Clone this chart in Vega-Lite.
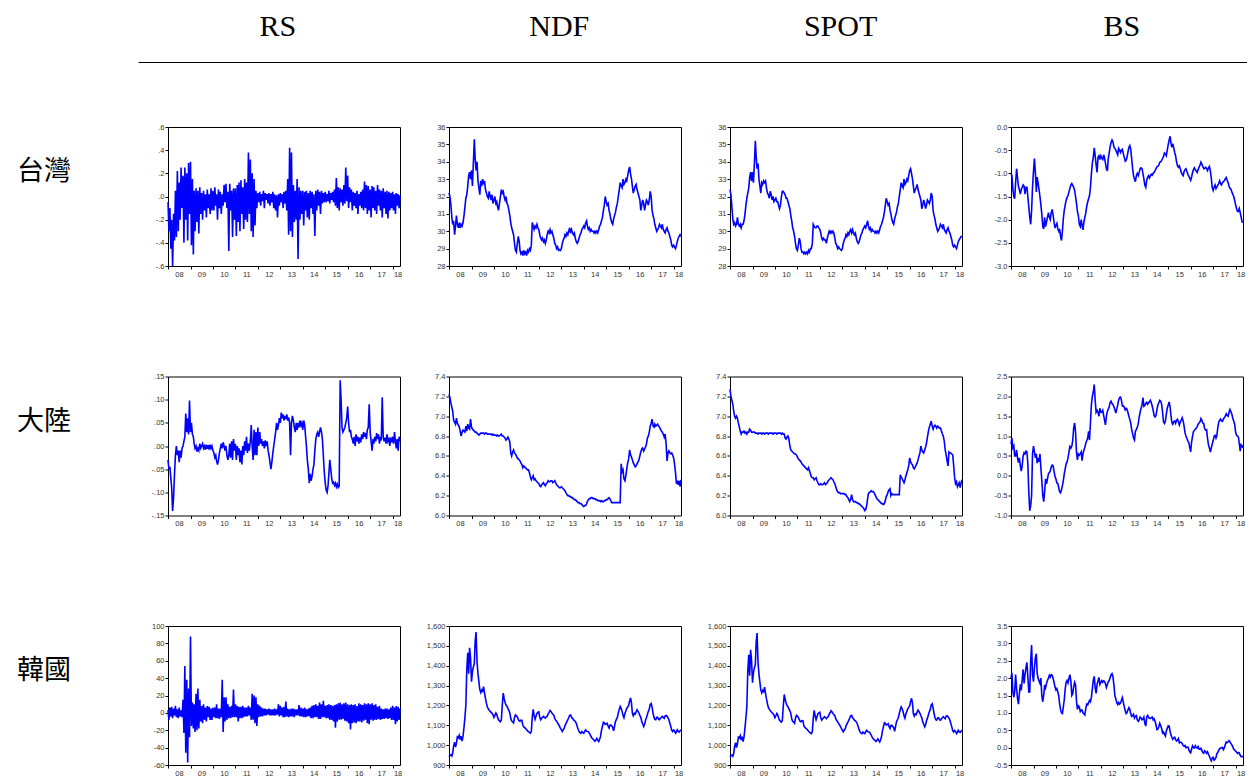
{
"$schema":"https://vega.github.io/schema/vega-lite/v6.json",
"padding":0,
"background":"white",
"bounds":"flush",
"spacing":127,
"config":{
"view":{"stroke":"#000","strokeWidth":1},
"line":{"color":"#0000ff","strokeWidth":1.6,"clip":true},
"axis":{"labelFont":"Liberation Sans","labelFontSize":7.5,"labelColor":"#333","tickColor":"#000","tickSize":3,"labelPadding":1,"grid":false,"domain":false,"labelFlush":false,"labelOverlap":false,"labelBound":false},
"axisX":{"labelOffset":{"condition":{"test":"utcyear(datum.value) == 2018","value":5},"value":11}}
},
"datasets":{
"tw":[
{"t":"2008-01-01","rs":-0.05,"ndf":32.2,"spot":32.4,"bs":-1.0},
{"t":"2008-01-16","rs":-0.3,"ndf":32.0,"spot":32.1,"bs":-1.05},
{"t":"2008-02-01","rs":-0.1,"ndf":31.5,"spot":31.4,"bs":-1.35},
{"t":"2008-02-16","rs":-0.45,"ndf":30.8,"spot":30.7,"bs":-1.5},
{"t":"2008-03-01","rs":-0.2,"ndf":30.4,"spot":30.4,"bs":-1.55},
{"t":"2008-03-16","rs":-0.6,"ndf":30.6,"spot":30.5,"bs":-1.2},
{"t":"2008-04-01","rs":-0.15,"ndf":29.8,"spot":30.3,"bs":-0.9},
{"t":"2008-04-16","rs":-0.38,"ndf":30.3,"spot":30.4,"bs":-1.1},
{"t":"2008-05-01","rs":0.05,"ndf":30.9,"spot":30.8,"bs":-1.28},
{"t":"2008-05-16","rs":-0.35,"ndf":30.4,"spot":30.4,"bs":-1.35},
{"t":"2008-06-01","rs":0.22,"ndf":30.2,"spot":30.3,"bs":-1.45},
{"t":"2008-06-16","rs":-0.3,"ndf":30.5,"spot":30.4,"bs":-1.35},
{"t":"2008-07-01","rs":0.12,"ndf":30.2,"spot":30.2,"bs":-1.3},
{"t":"2008-07-16","rs":-0.2,"ndf":30.4,"spot":30.4,"bs":-1.25},
{"t":"2008-08-01","rs":0.25,"ndf":30.3,"spot":30.4,"bs":-1.28},
{"t":"2008-08-16","rs":-0.1,"ndf":30.5,"spot":30.6,"bs":-1.45},
{"t":"2008-09-01","rs":0.18,"ndf":30.9,"spot":31.0,"bs":-1.3},
{"t":"2008-09-16","rs":-0.4,"ndf":31.4,"spot":31.5,"bs":-1.3},
{"t":"2008-10-01","rs":0.25,"ndf":31.9,"spot":31.9,"bs":-1.5},
{"t":"2008-10-16","rs":-0.2,"ndf":32.1,"spot":32.2,"bs":-1.72},
{"t":"2008-11-01","rs":0.2,"ndf":32.6,"spot":32.5,"bs":-1.95},
{"t":"2008-11-16","rs":-0.38,"ndf":33.2,"spot":33.1,"bs":-2.1},
{"t":"2008-12-01","rs":0.29,"ndf":33.4,"spot":33.4,"bs":-1.8},
{"t":"2008-12-16","rs":-0.15,"ndf":33.0,"spot":32.9,"bs":-1.3},
{"t":"2009-01-01","rs":0.3,"ndf":33.5,"spot":33.4,"bs":-0.95},
{"t":"2009-01-16","rs":-0.42,"ndf":32.6,"spot":32.8,"bs":-0.68},
{"t":"2009-02-01","rs":0.15,"ndf":34.0,"spot":33.9,"bs":-1.0},
{"t":"2009-02-16","rs":-0.5,"ndf":35.3,"spot":35.2,"bs":-1.4},
{"t":"2009-03-01","rs":0.05,"ndf":34.2,"spot":34.3,"bs":-1.08},
{"t":"2009-03-16","rs":-0.3,"ndf":33.5,"spot":33.6,"bs":-1.2},
{"t":"2009-04-01","rs":0.07,"ndf":34.0,"spot":33.9,"bs":-1.35},
{"t":"2009-04-16","rs":-0.22,"ndf":32.9,"spot":33.0,"bs":-1.5},
{"t":"2009-05-01","rs":0.05,"ndf":32.5,"spot":32.6,"bs":-1.68},
{"t":"2009-05-16","rs":-0.32,"ndf":32.1,"spot":32.2,"bs":-1.88},
{"t":"2009-06-01","rs":0.08,"ndf":32.9,"spot":32.8,"bs":-2.15},
{"t":"2009-06-16","rs":-0.15,"ndf":32.6,"spot":32.7,"bs":-2.2},
{"t":"2009-07-01","rs":0.03,"ndf":33.0,"spot":32.9,"bs":-1.95},
{"t":"2009-07-16","rs":-0.2,"ndf":32.7,"spot":32.8,"bs":-2.15},
{"t":"2009-08-01","rs":0.05,"ndf":32.9,"spot":32.9,"bs":-2.05},
{"t":"2009-08-16","rs":-0.12,"ndf":32.4,"spot":32.5,"bs":-1.95},
{"t":"2009-09-01","rs":0.02,"ndf":32.2,"spot":32.2,"bs":-1.85},
{"t":"2009-09-16","rs":-0.18,"ndf":32.0,"spot":32.1,"bs":-1.95},
{"t":"2009-10-01","rs":0.06,"ndf":31.9,"spot":31.9,"bs":-2.0},
{"t":"2009-10-16","rs":-0.1,"ndf":32.3,"spot":32.3,"bs":-1.85},
{"t":"2009-11-01","rs":0.02,"ndf":32.0,"spot":32.1,"bs":-1.78},
{"t":"2009-11-16","rs":-0.15,"ndf":31.8,"spot":31.8,"bs":-1.9},
{"t":"2009-12-01","rs":0.07,"ndf":32.1,"spot":32.0,"bs":-2.05},
{"t":"2009-12-16","rs":-0.12,"ndf":31.6,"spot":31.7,"bs":-2.18},
{"t":"2010-01-01","rs":0.05,"ndf":31.8,"spot":31.8,"bs":-2.12},
{"t":"2010-01-16","rs":-0.12,"ndf":32.0,"spot":31.9,"bs":-2.08},
{"t":"2010-02-01","rs":0.08,"ndf":31.6,"spot":31.7,"bs":-2.2},
{"t":"2010-02-16","rs":-0.08,"ndf":31.7,"spot":31.7,"bs":-2.25},
{"t":"2010-03-01","rs":0.02,"ndf":31.4,"spot":31.5,"bs":-2.2},
{"t":"2010-03-16","rs":-0.2,"ndf":31.2,"spot":31.3,"bs":-2.35},
{"t":"2010-04-01","rs":0.06,"ndf":31.6,"spot":31.5,"bs":-2.45},
{"t":"2010-04-16","rs":-0.1,"ndf":32.0,"spot":32.0,"bs":-2.25},
{"t":"2010-05-01","rs":0.04,"ndf":32.4,"spot":32.3,"bs":-1.98},
{"t":"2010-05-16","rs":-0.15,"ndf":32.2,"spot":32.3,"bs":-1.8},
{"t":"2010-06-01","rs":0.02,"ndf":32.3,"spot":32.2,"bs":-1.68},
{"t":"2010-06-16","rs":-0.08,"ndf":32.0,"spot":32.1,"bs":-1.58},
{"t":"2010-07-01","rs":0.1,"ndf":31.8,"spot":31.9,"bs":-1.52},
{"t":"2010-07-16","rs":-0.05,"ndf":32.0,"spot":31.9,"bs":-1.48},
{"t":"2010-08-01","rs":0.11,"ndf":31.6,"spot":31.7,"bs":-1.4},
{"t":"2010-08-16","rs":-0.1,"ndf":31.5,"spot":31.5,"bs":-1.32},
{"t":"2010-09-01","rs":0.04,"ndf":31.2,"spot":31.3,"bs":-1.25},
{"t":"2010-09-16","rs":-0.47,"ndf":30.9,"spot":30.9,"bs":-1.22},
{"t":"2010-10-01","rs":0.11,"ndf":30.5,"spot":30.6,"bs":-1.26},
{"t":"2010-10-16","rs":-0.12,"ndf":30.2,"spot":30.2,"bs":-1.3},
{"t":"2010-11-01","rs":0.05,"ndf":30.0,"spot":30.0,"bs":-1.37},
{"t":"2010-11-16","rs":-0.35,"ndf":29.8,"spot":29.7,"bs":-1.5},
{"t":"2010-12-01","rs":0.07,"ndf":29.3,"spot":29.3,"bs":-1.65},
{"t":"2010-12-16","rs":-0.2,"ndf":28.9,"spot":29.0,"bs":-1.82},
{"t":"2011-01-01","rs":0.07,"ndf":28.8,"spot":28.9,"bs":-1.92},
{"t":"2011-01-16","rs":-0.34,"ndf":29.3,"spot":29.2,"bs":-2.1},
{"t":"2011-02-01","rs":0.1,"ndf":29.7,"spot":29.6,"bs":-2.15},
{"t":"2011-02-16","rs":-0.22,"ndf":29.4,"spot":29.4,"bs":-2.0},
{"t":"2011-03-01","rs":0.12,"ndf":28.9,"spot":29.0,"bs":-2.12},
{"t":"2011-03-16","rs":-0.3,"ndf":28.7,"spot":28.8,"bs":-2.22},
{"t":"2011-04-01","rs":0.14,"ndf":28.8,"spot":28.8,"bs":-2.05},
{"t":"2011-04-16","rs":-0.15,"ndf":28.6,"spot":28.7,"bs":-1.95},
{"t":"2011-05-01","rs":0.08,"ndf":28.9,"spot":28.8,"bs":-1.86},
{"t":"2011-05-16","rs":-0.28,"ndf":28.7,"spot":28.7,"bs":-1.72},
{"t":"2011-06-01","rs":0.15,"ndf":28.8,"spot":28.8,"bs":-1.62},
{"t":"2011-06-16","rs":-0.2,"ndf":28.6,"spot":28.7,"bs":-1.55},
{"t":"2011-07-01","rs":0.12,"ndf":28.9,"spot":28.9,"bs":-1.48},
{"t":"2011-07-16","rs":-0.22,"ndf":28.8,"spot":28.8,"bs":-1.3},
{"t":"2011-08-01","rs":0.38,"ndf":29.0,"spot":29.0,"bs":-1.0},
{"t":"2011-08-16","rs":-0.15,"ndf":28.9,"spot":29.0,"bs":-0.78},
{"t":"2011-09-01","rs":0.32,"ndf":29.2,"spot":29.3,"bs":-0.65},
{"t":"2011-09-16","rs":-0.3,"ndf":30.5,"spot":30.4,"bs":-0.45},
{"t":"2011-10-01","rs":0.2,"ndf":30.3,"spot":30.3,"bs":-0.62},
{"t":"2011-10-16","rs":-0.35,"ndf":30.1,"spot":30.2,"bs":-0.82},
{"t":"2011-11-01","rs":0.15,"ndf":30.3,"spot":30.2,"bs":-0.98},
{"t":"2011-11-16","rs":-0.25,"ndf":30.2,"spot":30.3,"bs":-0.65},
{"t":"2011-12-01","rs":0.05,"ndf":30.4,"spot":30.3,"bs":-0.62},
{"t":"2011-12-16","rs":-0.1,"ndf":30.2,"spot":30.2,"bs":-0.7},
{"t":"2012-01-01","rs":0.03,"ndf":30.1,"spot":30.1,"bs":-0.62},
{"t":"2012-01-16","rs":-0.05,"ndf":29.8,"spot":29.9,"bs":-0.67},
{"t":"2012-02-01","rs":0.04,"ndf":29.6,"spot":29.6,"bs":-0.7},
{"t":"2012-02-16","rs":-0.08,"ndf":29.5,"spot":29.5,"bs":-0.6},
{"t":"2012-03-01","rs":0.02,"ndf":29.6,"spot":29.6,"bs":-0.66},
{"t":"2012-03-16","rs":-0.04,"ndf":29.4,"spot":29.5,"bs":-0.78},
{"t":"2012-04-01","rs":0.05,"ndf":29.5,"spot":29.5,"bs":-0.9},
{"t":"2012-04-16","rs":-0.1,"ndf":29.3,"spot":29.3,"bs":-0.95},
{"t":"2012-05-01","rs":0.03,"ndf":29.5,"spot":29.6,"bs":-0.68},
{"t":"2012-05-16","rs":-0.03,"ndf":29.8,"spot":29.8,"bs":-0.56},
{"t":"2012-06-01","rs":0.02,"ndf":30.0,"spot":30.0,"bs":-0.42},
{"t":"2012-06-16","rs":-0.06,"ndf":29.9,"spot":29.9,"bs":-0.33},
{"t":"2012-07-01","rs":0.03,"ndf":30.1,"spot":30.0,"bs":-0.28},
{"t":"2012-07-16","rs":-0.08,"ndf":29.9,"spot":29.9,"bs":-0.32},
{"t":"2012-08-01","rs":0.02,"ndf":30.0,"spot":30.0,"bs":-0.43},
{"t":"2012-08-16","rs":-0.05,"ndf":29.8,"spot":29.9,"bs":-0.46},
{"t":"2012-09-01","rs":0.04,"ndf":29.6,"spot":29.6,"bs":-0.5},
{"t":"2012-09-16","rs":-0.1,"ndf":29.3,"spot":29.3,"bs":-0.55},
{"t":"2012-10-01","rs":0.02,"ndf":29.2,"spot":29.2,"bs":-0.6},
{"t":"2012-10-16","rs":-0.12,"ndf":29.0,"spot":29.0,"bs":-0.46},
{"t":"2012-11-01","rs":0.01,"ndf":29.1,"spot":29.1,"bs":-0.5},
{"t":"2012-11-16","rs":-0.18,"ndf":28.9,"spot":29.0,"bs":-0.55},
{"t":"2012-12-01","rs":0.02,"ndf":28.95,"spot":28.95,"bs":-0.5},
{"t":"2012-12-16","rs":-0.08,"ndf":28.9,"spot":28.9,"bs":-0.48},
{"t":"2013-01-01","rs":0.03,"ndf":29.0,"spot":29.0,"bs":-0.58},
{"t":"2013-01-16","rs":-0.05,"ndf":29.3,"spot":29.3,"bs":-0.65},
{"t":"2013-02-01","rs":0.02,"ndf":29.5,"spot":29.5,"bs":-0.74},
{"t":"2013-02-16","rs":-0.1,"ndf":29.6,"spot":29.6,"bs":-0.72},
{"t":"2013-03-01","rs":0.04,"ndf":29.8,"spot":29.8,"bs":-0.66},
{"t":"2013-03-16","rs":-0.06,"ndf":29.7,"spot":29.7,"bs":-0.55},
{"t":"2013-04-01","rs":0.05,"ndf":29.9,"spot":29.9,"bs":-0.44},
{"t":"2013-04-16","rs":-0.12,"ndf":29.8,"spot":29.8,"bs":-0.4},
{"t":"2013-05-01","rs":0.15,"ndf":30.0,"spot":30.0,"bs":-0.48},
{"t":"2013-05-16","rs":-0.33,"ndf":30.2,"spot":30.1,"bs":-0.68},
{"t":"2013-06-01","rs":0.42,"ndf":29.9,"spot":29.9,"bs":-0.9},
{"t":"2013-06-16","rs":-0.3,"ndf":30.1,"spot":30.1,"bs":-1.05},
{"t":"2013-07-01","rs":0.38,"ndf":29.9,"spot":29.9,"bs":-1.12},
{"t":"2013-07-16","rs":-0.35,"ndf":29.8,"spot":29.8,"bs":-1.18},
{"t":"2013-08-01","rs":0.1,"ndf":29.9,"spot":29.9,"bs":-1.05},
{"t":"2013-08-16","rs":-0.22,"ndf":29.6,"spot":29.6,"bs":-1.0},
{"t":"2013-09-01","rs":0.05,"ndf":29.4,"spot":29.4,"bs":-1.05},
{"t":"2013-09-16","rs":-0.2,"ndf":29.3,"spot":29.3,"bs":-0.98},
{"t":"2013-10-01","rs":0.15,"ndf":29.4,"spot":29.4,"bs":-0.9},
{"t":"2013-10-16","rs":-0.54,"ndf":29.6,"spot":29.6,"bs":-0.88},
{"t":"2013-11-01","rs":0.08,"ndf":29.8,"spot":29.8,"bs":-0.9},
{"t":"2013-11-16","rs":-0.2,"ndf":29.9,"spot":29.9,"bs":-1.0},
{"t":"2013-12-01","rs":0.05,"ndf":30.1,"spot":30.1,"bs":-1.12},
{"t":"2013-12-16","rs":-0.15,"ndf":30.2,"spot":30.2,"bs":-1.25},
{"t":"2014-01-01","rs":0.05,"ndf":30.3,"spot":30.3,"bs":-1.3},
{"t":"2014-01-16","rs":-0.25,"ndf":30.2,"spot":30.2,"bs":-1.15},
{"t":"2014-02-01","rs":0.04,"ndf":30.5,"spot":30.4,"bs":-1.08},
{"t":"2014-02-16","rs":-0.12,"ndf":30.6,"spot":30.6,"bs":-1.05},
{"t":"2014-03-01","rs":0.05,"ndf":30.3,"spot":30.3,"bs":-1.1},
{"t":"2014-03-16","rs":-0.18,"ndf":30.1,"spot":30.1,"bs":-1.06},
{"t":"2014-04-01","rs":0.03,"ndf":30.2,"spot":30.2,"bs":-1.02},
{"t":"2014-04-16","rs":-0.2,"ndf":30.0,"spot":30.0,"bs":-1.04},
{"t":"2014-05-01","rs":0.05,"ndf":30.1,"spot":30.1,"bs":-1.0},
{"t":"2014-05-16","rs":-0.1,"ndf":30.0,"spot":30.0,"bs":-0.98},
{"t":"2014-06-01","rs":0.04,"ndf":30.0,"spot":30.0,"bs":-0.94},
{"t":"2014-06-16","rs":-0.15,"ndf":29.9,"spot":29.9,"bs":-0.9},
{"t":"2014-07-01","rs":0.02,"ndf":30.0,"spot":30.0,"bs":-0.86},
{"t":"2014-07-16","rs":-0.34,"ndf":29.9,"spot":29.9,"bs":-0.85},
{"t":"2014-08-01","rs":0.05,"ndf":30.0,"spot":30.0,"bs":-0.82},
{"t":"2014-08-16","rs":-0.12,"ndf":29.9,"spot":29.9,"bs":-0.76},
{"t":"2014-09-01","rs":0.06,"ndf":30.1,"spot":30.1,"bs":-0.75},
{"t":"2014-09-16","rs":-0.08,"ndf":30.3,"spot":30.3,"bs":-0.72},
{"t":"2014-10-01","rs":0.04,"ndf":30.4,"spot":30.4,"bs":-0.68},
{"t":"2014-10-16","rs":-0.15,"ndf":30.6,"spot":30.6,"bs":-0.64},
{"t":"2014-11-01","rs":0.05,"ndf":30.8,"spot":30.8,"bs":-0.56},
{"t":"2014-11-16","rs":-0.06,"ndf":31.2,"spot":31.1,"bs":-0.58},
{"t":"2014-12-01","rs":0.03,"ndf":31.5,"spot":31.5,"bs":-0.62},
{"t":"2014-12-16","rs":-0.05,"ndf":32.0,"spot":31.9,"bs":-0.5},
{"t":"2015-01-01","rs":0.04,"ndf":31.7,"spot":31.7,"bs":-0.38},
{"t":"2015-01-16","rs":-0.05,"ndf":31.5,"spot":31.5,"bs":-0.28},
{"t":"2015-02-01","rs":0.02,"ndf":31.6,"spot":31.6,"bs":-0.2},
{"t":"2015-02-16","rs":-0.04,"ndf":31.2,"spot":31.2,"bs":-0.36},
{"t":"2015-03-01","rs":0.05,"ndf":31.0,"spot":31.0,"bs":-0.44},
{"t":"2015-03-16","rs":-0.06,"ndf":30.7,"spot":30.7,"bs":-0.36},
{"t":"2015-04-01","rs":0.03,"ndf":30.5,"spot":30.5,"bs":-0.45},
{"t":"2015-04-16","rs":-0.03,"ndf":30.4,"spot":30.4,"bs":-0.55},
{"t":"2015-05-01","rs":0.04,"ndf":30.7,"spot":30.7,"bs":-0.62},
{"t":"2015-05-16","rs":-0.05,"ndf":30.9,"spot":30.9,"bs":-0.75},
{"t":"2015-06-01","rs":0.06,"ndf":31.1,"spot":31.1,"bs":-0.84},
{"t":"2015-06-16","rs":-0.08,"ndf":31.4,"spot":31.4,"bs":-0.87},
{"t":"2015-07-01","rs":0.16,"ndf":31.6,"spot":31.6,"bs":-0.84},
{"t":"2015-07-16","rs":-0.1,"ndf":32.0,"spot":32.0,"bs":-0.9},
{"t":"2015-08-01","rs":0.08,"ndf":32.4,"spot":32.4,"bs":-0.98},
{"t":"2015-08-16","rs":-0.12,"ndf":32.8,"spot":32.8,"bs":-1.02},
{"t":"2015-09-01","rs":0.07,"ndf":32.6,"spot":32.6,"bs":-1.05},
{"t":"2015-09-16","rs":-0.05,"ndf":32.5,"spot":32.5,"bs":-0.96},
{"t":"2015-10-01","rs":0.06,"ndf":33.0,"spot":33.0,"bs":-0.92},
{"t":"2015-10-16","rs":-0.08,"ndf":32.7,"spot":32.7,"bs":-0.9},
{"t":"2015-11-01","rs":0.1,"ndf":32.8,"spot":32.8,"bs":-0.96},
{"t":"2015-11-16","rs":-0.06,"ndf":33.0,"spot":33.0,"bs":-1.02},
{"t":"2015-12-01","rs":0.25,"ndf":32.9,"spot":32.9,"bs":-1.06},
{"t":"2015-12-16","rs":-0.04,"ndf":33.2,"spot":33.2,"bs":-1.1},
{"t":"2016-01-01","rs":0.18,"ndf":33.5,"spot":33.5,"bs":-1.15},
{"t":"2016-01-16","rs":-0.1,"ndf":33.7,"spot":33.6,"bs":-1.08},
{"t":"2016-02-01","rs":0.08,"ndf":33.3,"spot":33.3,"bs":-0.98},
{"t":"2016-02-16","rs":-0.05,"ndf":33.0,"spot":33.0,"bs":-0.92},
{"t":"2016-03-01","rs":0.06,"ndf":32.6,"spot":32.6,"bs":-0.88},
{"t":"2016-03-16","rs":-0.12,"ndf":32.2,"spot":32.2,"bs":-0.92},
{"t":"2016-04-01","rs":0.04,"ndf":32.4,"spot":32.4,"bs":-0.95},
{"t":"2016-04-16","rs":-0.08,"ndf":32.6,"spot":32.5,"bs":-0.98},
{"t":"2016-05-01","rs":0.03,"ndf":32.7,"spot":32.7,"bs":-0.92},
{"t":"2016-05-16","rs":-0.1,"ndf":32.4,"spot":32.4,"bs":-0.87},
{"t":"2016-06-01","rs":0.05,"ndf":32.2,"spot":32.2,"bs":-0.82},
{"t":"2016-06-16","rs":-0.15,"ndf":32.0,"spot":32.0,"bs":-0.76},
{"t":"2016-07-01","rs":0.02,"ndf":31.8,"spot":31.8,"bs":-0.8},
{"t":"2016-07-16","rs":-0.08,"ndf":31.2,"spot":31.3,"bs":-0.85},
{"t":"2016-08-01","rs":0.04,"ndf":31.5,"spot":31.5,"bs":-0.9},
{"t":"2016-08-16","rs":-0.1,"ndf":31.8,"spot":31.8,"bs":-0.89},
{"t":"2016-09-01","rs":0.06,"ndf":31.6,"spot":31.6,"bs":-0.87},
{"t":"2016-09-16","rs":-0.12,"ndf":31.2,"spot":31.3,"bs":-0.9},
{"t":"2016-10-01","rs":0.13,"ndf":31.5,"spot":31.5,"bs":-0.94},
{"t":"2016-10-16","rs":-0.1,"ndf":31.8,"spot":31.8,"bs":-0.88},
{"t":"2016-11-01","rs":0.1,"ndf":31.7,"spot":31.7,"bs":-0.85},
{"t":"2016-11-16","rs":-0.15,"ndf":31.5,"spot":31.6,"bs":-0.95},
{"t":"2016-12-01","rs":0.09,"ndf":31.8,"spot":31.8,"bs":-1.1},
{"t":"2016-12-16","rs":-0.12,"ndf":32.3,"spot":32.2,"bs":-1.3},
{"t":"2017-01-01","rs":0.06,"ndf":32.0,"spot":32.0,"bs":-1.37},
{"t":"2017-01-16","rs":-0.18,"ndf":31.2,"spot":31.2,"bs":-1.3},
{"t":"2017-02-01","rs":0.09,"ndf":30.9,"spot":30.9,"bs":-1.25},
{"t":"2017-02-16","rs":-0.1,"ndf":30.7,"spot":30.7,"bs":-1.33},
{"t":"2017-03-01","rs":0.08,"ndf":30.4,"spot":30.4,"bs":-1.3},
{"t":"2017-03-16","rs":-0.12,"ndf":30.2,"spot":30.2,"bs":-1.26},
{"t":"2017-04-01","rs":0.05,"ndf":30.0,"spot":30.0,"bs":-1.22},
{"t":"2017-04-16","rs":-0.15,"ndf":30.1,"spot":30.1,"bs":-1.16},
{"t":"2017-05-01","rs":0.1,"ndf":30.2,"spot":30.2,"bs":-1.22},
{"t":"2017-05-16","rs":-0.08,"ndf":30.4,"spot":30.4,"bs":-1.25},
{"t":"2017-06-01","rs":0.06,"ndf":30.3,"spot":30.3,"bs":-1.2},
{"t":"2017-06-16","rs":-0.12,"ndf":30.2,"spot":30.2,"bs":-1.18},
{"t":"2017-07-01","rs":0.05,"ndf":30.4,"spot":30.4,"bs":-1.16},
{"t":"2017-07-16","rs":-0.18,"ndf":30.1,"spot":30.1,"bs":-1.12},
{"t":"2017-08-01","rs":0.07,"ndf":30.0,"spot":30.0,"bs":-1.09},
{"t":"2017-08-16","rs":-0.1,"ndf":29.9,"spot":29.9,"bs":-1.15},
{"t":"2017-09-01","rs":0.04,"ndf":30.1,"spot":30.1,"bs":-1.2},
{"t":"2017-09-16","rs":-0.15,"ndf":30.2,"spot":30.2,"bs":-1.28},
{"t":"2017-10-01","rs":0.05,"ndf":30.0,"spot":30.0,"bs":-1.32},
{"t":"2017-10-16","rs":-0.19,"ndf":29.9,"spot":29.9,"bs":-1.34},
{"t":"2017-11-01","rs":0.04,"ndf":29.7,"spot":29.7,"bs":-1.4},
{"t":"2017-11-16","rs":-0.12,"ndf":29.5,"spot":29.5,"bs":-1.45},
{"t":"2017-12-01","rs":0.03,"ndf":29.2,"spot":29.2,"bs":-1.5},
{"t":"2017-12-16","rs":-0.1,"ndf":29.1,"spot":29.1,"bs":-1.58},
{"t":"2018-01-01","rs":0.04,"ndf":29.2,"spot":29.2,"bs":-1.68},
{"t":"2018-01-16","rs":-0.12,"ndf":29.1,"spot":29.1,"bs":-1.76},
{"t":"2018-02-01","rs":0.02,"ndf":29.0,"spot":29.0,"bs":-1.82},
{"t":"2018-02-16","rs":-0.15,"ndf":29.2,"spot":29.2,"bs":-1.82},
{"t":"2018-03-01","rs":0.03,"ndf":29.4,"spot":29.4,"bs":-1.76},
{"t":"2018-03-16","rs":-0.08,"ndf":29.6,"spot":29.5,"bs":-1.84},
{"t":"2018-04-01","rs":0.02,"ndf":29.7,"spot":29.6,"bs":-1.95},
{"t":"2018-04-16","rs":-0.1,"ndf":29.8,"spot":29.7,"bs":-2.05},
{"t":"2018-05-01","rs":0.01,"ndf":29.7,"spot":29.7,"bs":-2.05}
],
"cn":[
{"t":"2008-01-01","rs":-0.03,"ndf":7.22,"spot":7.27,"bs":0.8},
{"t":"2008-01-16","rs":-0.05,"ndf":7.19,"spot":7.2,"bs":0.95},
{"t":"2008-02-01","rs":-0.045,"ndf":7.13,"spot":7.16,"bs":0.7},
{"t":"2008-02-16","rs":-0.07,"ndf":7.09,"spot":7.12,"bs":0.75},
{"t":"2008-03-01","rs":-0.09,"ndf":7.05,"spot":7.05,"bs":0.5},
{"t":"2008-03-16","rs":-0.14,"ndf":6.96,"spot":7.0,"bs":0.5},
{"t":"2008-04-01","rs":-0.11,"ndf":6.94,"spot":6.98,"bs":0.65},
{"t":"2008-04-16","rs":-0.06,"ndf":6.92,"spot":7.0,"bs":0.45},
{"t":"2008-05-01","rs":-0.02,"ndf":6.98,"spot":6.98,"bs":0.33},
{"t":"2008-05-16","rs":0.0,"ndf":6.93,"spot":6.93,"bs":0.45},
{"t":"2008-06-01","rs":-0.02,"ndf":6.91,"spot":6.89,"bs":0.25},
{"t":"2008-06-16","rs":-0.01,"ndf":6.89,"spot":6.85,"bs":0.12},
{"t":"2008-07-01","rs":-0.035,"ndf":6.85,"spot":6.82,"bs":0.25},
{"t":"2008-07-16","rs":-0.01,"ndf":6.8,"spot":6.84,"bs":0.5},
{"t":"2008-08-01","rs":-0.025,"ndf":6.84,"spot":6.84,"bs":0.58},
{"t":"2008-08-16","rs":-0.005,"ndf":6.86,"spot":6.85,"bs":0.55},
{"t":"2008-09-01","rs":0.0,"ndf":6.85,"spot":6.83,"bs":0.62},
{"t":"2008-09-16","rs":0.01,"ndf":6.84,"spot":6.84,"bs":0.6},
{"t":"2008-10-01","rs":0.02,"ndf":6.9,"spot":6.82,"bs":0.3},
{"t":"2008-10-16","rs":0.07,"ndf":6.85,"spot":6.84,"bs":-0.4},
{"t":"2008-11-01","rs":0.03,"ndf":6.92,"spot":6.84,"bs":-0.88},
{"t":"2008-11-16","rs":0.06,"ndf":6.88,"spot":6.87,"bs":-0.75},
{"t":"2008-12-01","rs":0.025,"ndf":6.87,"spot":6.86,"bs":-0.5},
{"t":"2008-12-16","rs":0.098,"ndf":6.97,"spot":6.84,"bs":0.55},
{"t":"2009-01-01","rs":0.03,"ndf":6.89,"spot":6.84,"bs":0.75},
{"t":"2009-01-16","rs":0.05,"ndf":6.87,"spot":6.84,"bs":0.6},
{"t":"2009-02-01","rs":0.025,"ndf":6.86,"spot":6.84,"bs":0.45},
{"t":"2009-02-16","rs":0.02,"ndf":6.85,"spot":6.83,"bs":0.55},
{"t":"2009-03-01","rs":0.005,"ndf":6.84,"spot":6.83,"bs":0.32},
{"t":"2009-03-16","rs":-0.005,"ndf":6.84,"spot":6.83,"bs":0.45},
{"t":"2009-04-01","rs":0.0,"ndf":6.83,"spot":6.82,"bs":0.35},
{"t":"2009-04-16","rs":-0.012,"ndf":6.82,"spot":6.83,"bs":0.55},
{"t":"2009-05-01","rs":-0.005,"ndf":6.81,"spot":6.83,"bs":0.2},
{"t":"2009-05-16","rs":-0.01,"ndf":6.82,"spot":6.83,"bs":-0.12},
{"t":"2009-06-01","rs":0.005,"ndf":6.83,"spot":6.82,"bs":-0.5},
{"t":"2009-06-16","rs":-0.005,"ndf":6.83,"spot":6.83,"bs":-0.65},
{"t":"2009-07-01","rs":0.0,"ndf":6.83,"spot":6.83,"bs":-0.4},
{"t":"2009-07-16","rs":0.005,"ndf":6.83,"spot":6.82,"bs":-0.08},
{"t":"2009-08-01","rs":-0.005,"ndf":6.82,"spot":6.83,"bs":-0.2},
{"t":"2009-08-16","rs":0.0,"ndf":6.83,"spot":6.83,"bs":-0.08},
{"t":"2009-09-01","rs":-0.008,"ndf":6.83,"spot":6.83,"bs":0.05},
{"t":"2009-09-16","rs":0.003,"ndf":6.82,"spot":6.82,"bs":0.08},
{"t":"2009-10-01","rs":-0.006,"ndf":6.82,"spot":6.83,"bs":0.12},
{"t":"2009-10-16","rs":0.002,"ndf":6.82,"spot":6.83,"bs":0.22},
{"t":"2009-11-01","rs":-0.008,"ndf":6.82,"spot":6.83,"bs":0.27},
{"t":"2009-11-16","rs":0.003,"ndf":6.82,"spot":6.83,"bs":0.25},
{"t":"2009-12-01","rs":-0.005,"ndf":6.81,"spot":6.82,"bs":0.12},
{"t":"2009-12-16","rs":0.0,"ndf":6.82,"spot":6.83,"bs":-0.02},
{"t":"2010-01-01","rs":-0.01,"ndf":6.81,"spot":6.83,"bs":-0.08},
{"t":"2010-01-16","rs":-0.015,"ndf":6.81,"spot":6.83,"bs":-0.18},
{"t":"2010-02-01","rs":-0.025,"ndf":6.81,"spot":6.82,"bs":-0.2},
{"t":"2010-02-16","rs":-0.02,"ndf":6.8,"spot":6.83,"bs":-0.3},
{"t":"2010-03-01","rs":-0.032,"ndf":6.81,"spot":6.83,"bs":-0.4},
{"t":"2010-03-16","rs":-0.04,"ndf":6.8,"spot":6.83,"bs":-0.43},
{"t":"2010-04-01","rs":-0.03,"ndf":6.8,"spot":6.83,"bs":-0.35},
{"t":"2010-04-16","rs":-0.015,"ndf":6.81,"spot":6.82,"bs":-0.25},
{"t":"2010-05-01","rs":-0.005,"ndf":6.82,"spot":6.83,"bs":-0.12},
{"t":"2010-05-16","rs":0.005,"ndf":6.8,"spot":6.82,"bs":0.05},
{"t":"2010-06-01","rs":-0.005,"ndf":6.8,"spot":6.82,"bs":0.18},
{"t":"2010-06-16","rs":0.008,"ndf":6.79,"spot":6.78,"bs":0.3},
{"t":"2010-07-01","rs":0.0,"ndf":6.78,"spot":6.77,"bs":0.35},
{"t":"2010-07-16","rs":-0.01,"ndf":6.76,"spot":6.79,"bs":0.45},
{"t":"2010-08-01","rs":0.0,"ndf":6.77,"spot":6.8,"bs":0.6},
{"t":"2010-08-16","rs":-0.02,"ndf":6.79,"spot":6.77,"bs":0.74},
{"t":"2010-09-01","rs":-0.03,"ndf":6.77,"spot":6.7,"bs":0.7},
{"t":"2010-09-16","rs":-0.02,"ndf":6.74,"spot":6.66,"bs":0.75},
{"t":"2010-10-01","rs":0.005,"ndf":6.63,"spot":6.65,"bs":0.89},
{"t":"2010-10-16","rs":-0.025,"ndf":6.6,"spot":6.64,"bs":1.2},
{"t":"2010-11-01","rs":0.01,"ndf":6.64,"spot":6.63,"bs":1.33},
{"t":"2010-11-16","rs":-0.03,"ndf":6.66,"spot":6.62,"bs":1.1},
{"t":"2010-12-01","rs":0.015,"ndf":6.63,"spot":6.62,"bs":0.6},
{"t":"2010-12-16","rs":-0.01,"ndf":6.62,"spot":6.61,"bs":0.4},
{"t":"2011-01-01","rs":0.005,"ndf":6.6,"spot":6.59,"bs":0.55},
{"t":"2011-01-16","rs":-0.03,"ndf":6.58,"spot":6.57,"bs":0.52},
{"t":"2011-02-01","rs":0.0,"ndf":6.57,"spot":6.56,"bs":0.55},
{"t":"2011-02-16","rs":-0.02,"ndf":6.56,"spot":6.55,"bs":0.6},
{"t":"2011-03-01","rs":-0.005,"ndf":6.55,"spot":6.54,"bs":0.38},
{"t":"2011-03-16","rs":-0.035,"ndf":6.53,"spot":6.52,"bs":0.55},
{"t":"2011-04-01","rs":-0.01,"ndf":6.51,"spot":6.51,"bs":0.65},
{"t":"2011-04-16","rs":-0.04,"ndf":6.48,"spot":6.5,"bs":0.72},
{"t":"2011-05-01","rs":0.0,"ndf":6.5,"spot":6.49,"bs":0.82},
{"t":"2011-05-16","rs":-0.02,"ndf":6.49,"spot":6.48,"bs":0.88},
{"t":"2011-06-01","rs":0.01,"ndf":6.48,"spot":6.47,"bs":0.95},
{"t":"2011-06-16","rs":-0.01,"ndf":6.47,"spot":6.46,"bs":1.12},
{"t":"2011-07-01","rs":0.02,"ndf":6.46,"spot":6.48,"bs":0.9},
{"t":"2011-07-16","rs":-0.015,"ndf":6.46,"spot":6.45,"bs":1.35},
{"t":"2011-08-01","rs":0.005,"ndf":6.43,"spot":6.42,"bs":1.8},
{"t":"2011-08-16","rs":-0.01,"ndf":6.39,"spot":6.39,"bs":2.0},
{"t":"2011-09-01","rs":0.01,"ndf":6.36,"spot":6.38,"bs":2.12},
{"t":"2011-09-16","rs":0.045,"ndf":6.38,"spot":6.38,"bs":2.3},
{"t":"2011-10-01","rs":0.0,"ndf":6.4,"spot":6.36,"bs":1.9},
{"t":"2011-10-16","rs":-0.03,"ndf":6.36,"spot":6.37,"bs":1.6},
{"t":"2011-11-01","rs":0.035,"ndf":6.37,"spot":6.38,"bs":1.65},
{"t":"2011-11-16","rs":-0.02,"ndf":6.35,"spot":6.35,"bs":1.6},
{"t":"2011-12-01","rs":0.03,"ndf":6.34,"spot":6.33,"bs":1.5},
{"t":"2011-12-16","rs":-0.02,"ndf":6.33,"spot":6.31,"bs":1.7},
{"t":"2012-01-01","rs":0.04,"ndf":6.32,"spot":6.31,"bs":1.6},
{"t":"2012-01-16","rs":0.0,"ndf":6.3,"spot":6.32,"bs":1.6},
{"t":"2012-02-01","rs":0.03,"ndf":6.29,"spot":6.31,"bs":1.65},
{"t":"2012-02-16","rs":0.005,"ndf":6.31,"spot":6.31,"bs":1.52},
{"t":"2012-03-01","rs":0.015,"ndf":6.32,"spot":6.32,"bs":1.4},
{"t":"2012-03-16","rs":0.0,"ndf":6.33,"spot":6.33,"bs":1.28},
{"t":"2012-04-01","rs":0.01,"ndf":6.31,"spot":6.31,"bs":1.5},
{"t":"2012-04-16","rs":-0.005,"ndf":6.3,"spot":6.32,"bs":1.62},
{"t":"2012-05-01","rs":0.012,"ndf":6.32,"spot":6.33,"bs":1.68},
{"t":"2012-05-16","rs":0.0,"ndf":6.33,"spot":6.35,"bs":1.73},
{"t":"2012-06-01","rs":0.01,"ndf":6.35,"spot":6.36,"bs":1.85},
{"t":"2012-06-16","rs":-0.01,"ndf":6.34,"spot":6.37,"bs":1.88},
{"t":"2012-07-01","rs":-0.02,"ndf":6.34,"spot":6.38,"bs":1.82},
{"t":"2012-07-16","rs":-0.035,"ndf":6.35,"spot":6.37,"bs":1.79},
{"t":"2012-08-01","rs":-0.05,"ndf":6.35,"spot":6.36,"bs":1.74},
{"t":"2012-08-16","rs":-0.035,"ndf":6.33,"spot":6.34,"bs":1.67},
{"t":"2012-09-01","rs":-0.015,"ndf":6.34,"spot":6.32,"bs":1.58},
{"t":"2012-09-16","rs":0.0,"ndf":6.35,"spot":6.29,"bs":1.68},
{"t":"2012-10-01","rs":0.015,"ndf":6.33,"spot":6.26,"bs":1.78},
{"t":"2012-10-16","rs":0.03,"ndf":6.31,"spot":6.24,"bs":1.9},
{"t":"2012-11-01","rs":0.05,"ndf":6.3,"spot":6.23,"bs":1.97},
{"t":"2012-11-16","rs":0.035,"ndf":6.29,"spot":6.23,"bs":1.98},
{"t":"2012-12-01","rs":0.045,"ndf":6.28,"spot":6.22,"bs":1.9},
{"t":"2012-12-16","rs":0.06,"ndf":6.28,"spot":6.22,"bs":1.76},
{"t":"2013-01-01","rs":0.05,"ndf":6.29,"spot":6.22,"bs":1.76},
{"t":"2013-01-16","rs":0.072,"ndf":6.28,"spot":6.22,"bs":1.72},
{"t":"2013-02-01","rs":0.06,"ndf":6.27,"spot":6.22,"bs":1.66},
{"t":"2013-02-16","rs":0.068,"ndf":6.26,"spot":6.21,"bs":1.7},
{"t":"2013-03-01","rs":0.055,"ndf":6.25,"spot":6.21,"bs":1.68},
{"t":"2013-03-16","rs":0.065,"ndf":6.23,"spot":6.19,"bs":1.6},
{"t":"2013-04-01","rs":0.058,"ndf":6.21,"spot":6.18,"bs":1.5},
{"t":"2013-04-16","rs":0.068,"ndf":6.2,"spot":6.16,"bs":1.42},
{"t":"2013-05-01","rs":0.055,"ndf":6.2,"spot":6.14,"bs":1.33},
{"t":"2013-05-16","rs":0.062,"ndf":6.19,"spot":6.16,"bs":1.17},
{"t":"2013-06-01","rs":0.05,"ndf":6.19,"spot":6.21,"bs":1.06},
{"t":"2013-06-16","rs":-0.02,"ndf":6.18,"spot":6.16,"bs":0.95},
{"t":"2013-07-01","rs":0.05,"ndf":6.18,"spot":6.14,"bs":0.9},
{"t":"2013-07-16","rs":0.065,"ndf":6.17,"spot":6.14,"bs":1.12},
{"t":"2013-08-01","rs":0.055,"ndf":6.16,"spot":6.14,"bs":1.17},
{"t":"2013-08-16","rs":0.04,"ndf":6.16,"spot":6.13,"bs":1.22},
{"t":"2013-09-01","rs":0.03,"ndf":6.15,"spot":6.13,"bs":1.32},
{"t":"2013-09-16","rs":0.05,"ndf":6.14,"spot":6.12,"bs":1.48},
{"t":"2013-10-01","rs":0.035,"ndf":6.13,"spot":6.12,"bs":1.6},
{"t":"2013-10-16","rs":0.05,"ndf":6.13,"spot":6.11,"bs":1.7},
{"t":"2013-11-01","rs":0.04,"ndf":6.12,"spot":6.1,"bs":1.78},
{"t":"2013-11-16","rs":0.055,"ndf":6.12,"spot":6.09,"bs":1.97},
{"t":"2013-12-01","rs":0.045,"ndf":6.11,"spot":6.08,"bs":1.75},
{"t":"2013-12-16","rs":0.05,"ndf":6.1,"spot":6.07,"bs":1.77},
{"t":"2014-01-01","rs":0.035,"ndf":6.09,"spot":6.05,"bs":1.82},
{"t":"2014-01-16","rs":0.055,"ndf":6.1,"spot":6.06,"bs":1.85},
{"t":"2014-02-01","rs":0.045,"ndf":6.1,"spot":6.1,"bs":1.8},
{"t":"2014-02-16","rs":0.02,"ndf":6.12,"spot":6.17,"bs":1.84},
{"t":"2014-03-01","rs":0.0,"ndf":6.14,"spot":6.22,"bs":1.86},
{"t":"2014-03-16","rs":-0.03,"ndf":6.16,"spot":6.23,"bs":1.9},
{"t":"2014-04-01","rs":-0.05,"ndf":6.17,"spot":6.24,"bs":1.84},
{"t":"2014-04-16","rs":-0.08,"ndf":6.17,"spot":6.25,"bs":1.75},
{"t":"2014-05-01","rs":-0.06,"ndf":6.18,"spot":6.24,"bs":1.65},
{"t":"2014-05-16","rs":-0.075,"ndf":6.18,"spot":6.24,"bs":1.52},
{"t":"2014-06-01","rs":-0.065,"ndf":6.17,"spot":6.23,"bs":1.48},
{"t":"2014-06-16","rs":-0.05,"ndf":6.17,"spot":6.21,"bs":1.52},
{"t":"2014-07-01","rs":-0.04,"ndf":6.17,"spot":6.19,"bs":1.66},
{"t":"2014-07-16","rs":-0.01,"ndf":6.16,"spot":6.17,"bs":1.78},
{"t":"2014-08-01","rs":0.015,"ndf":6.16,"spot":6.16,"bs":1.84},
{"t":"2014-08-16","rs":0.025,"ndf":6.15,"spot":6.15,"bs":1.9},
{"t":"2014-09-01","rs":0.03,"ndf":6.15,"spot":6.14,"bs":1.88},
{"t":"2014-09-16","rs":0.02,"ndf":6.15,"spot":6.13,"bs":1.8},
{"t":"2014-10-01","rs":0.03,"ndf":6.14,"spot":6.12,"bs":1.6},
{"t":"2014-10-16","rs":0.04,"ndf":6.15,"spot":6.12,"bs":1.36},
{"t":"2014-11-01","rs":0.03,"ndf":6.14,"spot":6.11,"bs":1.32},
{"t":"2014-11-16","rs":0.015,"ndf":6.14,"spot":6.12,"bs":1.38},
{"t":"2014-12-01","rs":-0.02,"ndf":6.15,"spot":6.15,"bs":1.55},
{"t":"2014-12-16","rs":-0.055,"ndf":6.15,"spot":6.19,"bs":1.7},
{"t":"2015-01-01","rs":-0.08,"ndf":6.16,"spot":6.21,"bs":1.78},
{"t":"2015-01-16","rs":-0.095,"ndf":6.16,"spot":6.24,"bs":1.86},
{"t":"2015-02-01","rs":-0.1,"ndf":6.17,"spot":6.26,"bs":1.72},
{"t":"2015-02-16","rs":-0.085,"ndf":6.18,"spot":6.27,"bs":1.5},
{"t":"2015-03-01","rs":-0.06,"ndf":6.17,"spot":6.2,"bs":1.35},
{"t":"2015-03-16","rs":-0.03,"ndf":6.15,"spot":6.22,"bs":1.3},
{"t":"2015-04-01","rs":-0.05,"ndf":6.13,"spot":6.21,"bs":1.36},
{"t":"2015-04-16","rs":-0.07,"ndf":6.13,"spot":6.21,"bs":1.38},
{"t":"2015-05-01","rs":-0.08,"ndf":6.13,"spot":6.21,"bs":1.32},
{"t":"2015-05-16","rs":-0.078,"ndf":6.13,"spot":6.21,"bs":1.4},
{"t":"2015-06-01","rs":-0.085,"ndf":6.13,"spot":6.21,"bs":1.42},
{"t":"2015-06-16","rs":-0.08,"ndf":6.13,"spot":6.21,"bs":1.36},
{"t":"2015-07-01","rs":-0.088,"ndf":6.13,"spot":6.21,"bs":1.28},
{"t":"2015-07-16","rs":-0.082,"ndf":6.13,"spot":6.21,"bs":1.35},
{"t":"2015-08-01","rs":-0.09,"ndf":6.13,"spot":6.41,"bs":1.4},
{"t":"2015-08-16","rs":-0.087,"ndf":6.13,"spot":6.39,"bs":1.46},
{"t":"2015-09-01","rs":0.142,"ndf":6.52,"spot":6.37,"bs":1.38},
{"t":"2015-09-16","rs":0.1,"ndf":6.44,"spot":6.35,"bs":1.25},
{"t":"2015-10-01","rs":0.04,"ndf":6.46,"spot":6.33,"bs":1.08},
{"t":"2015-10-16","rs":0.03,"ndf":6.37,"spot":6.36,"bs":1.0},
{"t":"2015-11-01","rs":0.035,"ndf":6.35,"spot":6.4,"bs":0.94},
{"t":"2015-11-16","rs":0.04,"ndf":6.4,"spot":6.43,"bs":0.88},
{"t":"2015-12-01","rs":0.05,"ndf":6.47,"spot":6.46,"bs":0.84},
{"t":"2015-12-16","rs":0.06,"ndf":6.53,"spot":6.5,"bs":0.72},
{"t":"2016-01-01","rs":0.085,"ndf":6.57,"spot":6.58,"bs":0.6},
{"t":"2016-01-16","rs":0.05,"ndf":6.66,"spot":6.54,"bs":0.85},
{"t":"2016-02-01","rs":0.03,"ndf":6.61,"spot":6.52,"bs":1.0},
{"t":"2016-02-16","rs":0.035,"ndf":6.59,"spot":6.51,"bs":1.12},
{"t":"2016-03-01","rs":0.02,"ndf":6.56,"spot":6.48,"bs":1.14},
{"t":"2016-03-16","rs":0.015,"ndf":6.53,"spot":6.47,"bs":1.17},
{"t":"2016-04-01","rs":0.005,"ndf":6.51,"spot":6.49,"bs":1.2},
{"t":"2016-04-16","rs":0.02,"ndf":6.49,"spot":6.51,"bs":1.24},
{"t":"2016-05-01","rs":0.0,"ndf":6.5,"spot":6.53,"bs":1.3},
{"t":"2016-05-16","rs":0.025,"ndf":6.52,"spot":6.56,"bs":1.33},
{"t":"2016-06-01","rs":0.01,"ndf":6.54,"spot":6.6,"bs":1.36},
{"t":"2016-06-16","rs":0.02,"ndf":6.56,"spot":6.63,"bs":1.44},
{"t":"2016-07-01","rs":0.005,"ndf":6.6,"spot":6.7,"bs":1.4},
{"t":"2016-07-16","rs":0.018,"ndf":6.64,"spot":6.66,"bs":1.33},
{"t":"2016-08-01","rs":0.008,"ndf":6.67,"spot":6.64,"bs":1.31},
{"t":"2016-08-16","rs":0.025,"ndf":6.68,"spot":6.63,"bs":1.18},
{"t":"2016-09-01","rs":0.015,"ndf":6.65,"spot":6.66,"bs":1.15},
{"t":"2016-09-16","rs":0.03,"ndf":6.67,"spot":6.69,"bs":1.16},
{"t":"2016-10-01","rs":0.02,"ndf":6.69,"spot":6.73,"bs":0.95},
{"t":"2016-10-16","rs":0.028,"ndf":6.72,"spot":6.79,"bs":0.78},
{"t":"2016-11-01","rs":0.015,"ndf":6.78,"spot":6.85,"bs":0.7},
{"t":"2016-11-16","rs":0.035,"ndf":6.8,"spot":6.89,"bs":0.6},
{"t":"2016-12-01","rs":0.04,"ndf":6.84,"spot":6.92,"bs":0.7},
{"t":"2016-12-16","rs":0.09,"ndf":6.9,"spot":6.95,"bs":0.8},
{"t":"2017-01-01","rs":0.03,"ndf":6.93,"spot":6.9,"bs":0.88},
{"t":"2017-01-16","rs":0.01,"ndf":6.97,"spot":6.87,"bs":1.0},
{"t":"2017-02-01","rs":-0.01,"ndf":6.9,"spot":6.9,"bs":1.02},
{"t":"2017-02-16","rs":0.015,"ndf":6.89,"spot":6.91,"bs":0.95},
{"t":"2017-03-01","rs":0.005,"ndf":6.92,"spot":6.9,"bs":1.0},
{"t":"2017-03-16","rs":0.02,"ndf":6.9,"spot":6.88,"bs":1.2},
{"t":"2017-04-01","rs":0.01,"ndf":6.91,"spot":6.9,"bs":1.35},
{"t":"2017-04-16","rs":0.028,"ndf":6.92,"spot":6.89,"bs":1.4},
{"t":"2017-05-01","rs":0.015,"ndf":6.9,"spot":6.88,"bs":1.43},
{"t":"2017-05-16","rs":0.025,"ndf":6.89,"spot":6.88,"bs":1.38},
{"t":"2017-06-01","rs":0.005,"ndf":6.87,"spot":6.85,"bs":1.37},
{"t":"2017-06-16","rs":0.02,"ndf":6.85,"spot":6.82,"bs":1.43},
{"t":"2017-07-01","rs":0.012,"ndf":6.84,"spot":6.8,"bs":1.46},
{"t":"2017-07-16","rs":0.105,"ndf":6.82,"spot":6.75,"bs":1.5},
{"t":"2017-08-01","rs":0.02,"ndf":6.79,"spot":6.66,"bs":1.56},
{"t":"2017-08-16","rs":0.01,"ndf":6.82,"spot":6.61,"bs":1.52},
{"t":"2017-09-01","rs":0.018,"ndf":6.72,"spot":6.55,"bs":1.5},
{"t":"2017-09-16","rs":0.005,"ndf":6.55,"spot":6.5,"bs":1.6},
{"t":"2017-10-01","rs":0.025,"ndf":6.63,"spot":6.64,"bs":1.67},
{"t":"2017-10-16","rs":0.01,"ndf":6.65,"spot":6.63,"bs":1.62},
{"t":"2017-11-01","rs":0.015,"ndf":6.63,"spot":6.63,"bs":1.55},
{"t":"2017-11-16","rs":0.0,"ndf":6.62,"spot":6.62,"bs":1.45},
{"t":"2017-12-01","rs":0.018,"ndf":6.63,"spot":6.61,"bs":1.38},
{"t":"2017-12-16","rs":0.008,"ndf":6.61,"spot":6.51,"bs":1.3},
{"t":"2018-01-01","rs":0.02,"ndf":6.58,"spot":6.38,"bs":1.1},
{"t":"2018-01-16","rs":0.005,"ndf":6.52,"spot":6.32,"bs":1.02},
{"t":"2018-02-01","rs":0.03,"ndf":6.43,"spot":6.34,"bs":1.0},
{"t":"2018-02-16","rs":0.01,"ndf":6.32,"spot":6.29,"bs":0.97},
{"t":"2018-03-01","rs":-0.005,"ndf":6.35,"spot":6.31,"bs":0.82},
{"t":"2018-03-16","rs":0.015,"ndf":6.31,"spot":6.33,"bs":0.62},
{"t":"2018-04-01","rs":-0.01,"ndf":6.35,"spot":6.28,"bs":0.78},
{"t":"2018-04-16","rs":0.02,"ndf":6.29,"spot":6.33,"bs":0.75},
{"t":"2018-05-01","rs":0.01,"ndf":6.36,"spot":6.36,"bs":0.7}
],
"kr":[
{"t":"2008-01-01","rs":3,"ndf":942,"spot":940,"bs":2.0},
{"t":"2008-01-16","rs":-8,"ndf":948,"spot":946,"bs":2.15},
{"t":"2008-02-01","rs":6,"ndf":951,"spot":950,"bs":1.6},
{"t":"2008-02-16","rs":-4,"ndf":945,"spot":944,"bs":1.45},
{"t":"2008-03-01","rs":7,"ndf":960,"spot":958,"bs":1.6},
{"t":"2008-03-16","rs":-6,"ndf":995,"spot":992,"bs":2.1},
{"t":"2008-04-01","rs":5,"ndf":1015,"spot":1012,"bs":1.7},
{"t":"2008-04-16","rs":-3,"ndf":990,"spot":988,"bs":1.42},
{"t":"2008-05-01","rs":8,"ndf":1010,"spot":1008,"bs":1.25},
{"t":"2008-05-16","rs":-5,"ndf":1042,"spot":1040,"bs":1.55},
{"t":"2008-06-01","rs":4,"ndf":1038,"spot":1036,"bs":1.82},
{"t":"2008-06-16","rs":-6,"ndf":1050,"spot":1048,"bs":1.65},
{"t":"2008-07-01","rs":6,"ndf":1028,"spot":1026,"bs":1.95},
{"t":"2008-07-16","rs":-4,"ndf":1045,"spot":1043,"bs":2.25},
{"t":"2008-08-01","rs":3,"ndf":1020,"spot":1018,"bs":1.85},
{"t":"2008-08-16","rs":-5,"ndf":1044,"spot":1042,"bs":2.1},
{"t":"2008-09-01","rs":15,"ndf":1090,"spot":1088,"bs":2.3},
{"t":"2008-09-16","rs":-23,"ndf":1140,"spot":1138,"bs":2.45},
{"t":"2008-10-01","rs":54,"ndf":1200,"spot":1195,"bs":2.05},
{"t":"2008-10-16","rs":-46,"ndf":1380,"spot":1370,"bs":1.6},
{"t":"2008-11-01","rs":38,"ndf":1465,"spot":1455,"bs":1.6},
{"t":"2008-11-16","rs":-57,"ndf":1360,"spot":1350,"bs":2.5},
{"t":"2008-12-01","rs":28,"ndf":1490,"spot":1480,"bs":2.95},
{"t":"2008-12-16","rs":-28,"ndf":1440,"spot":1430,"bs":2.1},
{"t":"2009-01-01","rs":88,"ndf":1320,"spot":1315,"bs":1.9},
{"t":"2009-01-16","rs":-15,"ndf":1370,"spot":1365,"bs":2.3},
{"t":"2009-02-01","rs":12,"ndf":1395,"spot":1390,"bs":2.6},
{"t":"2009-02-16","rs":-18,"ndf":1410,"spot":1405,"bs":2.7},
{"t":"2009-03-01","rs":10,"ndf":1520,"spot":1515,"bs":2.15},
{"t":"2009-03-16","rs":-22,"ndf":1570,"spot":1565,"bs":2.0},
{"t":"2009-04-01","rs":22,"ndf":1420,"spot":1415,"bs":1.92},
{"t":"2009-04-16","rs":-20,"ndf":1360,"spot":1358,"bs":1.85},
{"t":"2009-05-01","rs":28,"ndf":1320,"spot":1318,"bs":2.0},
{"t":"2009-05-16","rs":-18,"ndf":1280,"spot":1278,"bs":1.5},
{"t":"2009-06-01","rs":15,"ndf":1265,"spot":1263,"bs":1.32},
{"t":"2009-06-16","rs":-10,"ndf":1278,"spot":1276,"bs":1.52},
{"t":"2009-07-01","rs":8,"ndf":1272,"spot":1270,"bs":1.8},
{"t":"2009-07-16","rs":-12,"ndf":1295,"spot":1292,"bs":1.72},
{"t":"2009-08-01","rs":10,"ndf":1262,"spot":1260,"bs":1.85},
{"t":"2009-08-16","rs":-8,"ndf":1235,"spot":1233,"bs":1.93},
{"t":"2009-09-01","rs":6,"ndf":1210,"spot":1208,"bs":2.0},
{"t":"2009-09-16","rs":-10,"ndf":1192,"spot":1190,"bs":2.08},
{"t":"2009-10-01","rs":8,"ndf":1183,"spot":1181,"bs":2.03},
{"t":"2009-10-16","rs":-5,"ndf":1176,"spot":1174,"bs":2.1},
{"t":"2009-11-01","rs":7,"ndf":1170,"spot":1168,"bs":2.08},
{"t":"2009-11-16","rs":-8,"ndf":1165,"spot":1163,"bs":1.99},
{"t":"2009-12-01","rs":5,"ndf":1160,"spot":1158,"bs":1.88},
{"t":"2009-12-16","rs":-8,"ndf":1153,"spot":1151,"bs":1.75},
{"t":"2010-01-01","rs":6,"ndf":1140,"spot":1138,"bs":1.66},
{"t":"2010-01-16","rs":-5,"ndf":1150,"spot":1148,"bs":1.7},
{"t":"2010-02-01","rs":6,"ndf":1162,"spot":1160,"bs":1.6},
{"t":"2010-02-16","rs":-6,"ndf":1155,"spot":1153,"bs":1.48},
{"t":"2010-03-01","rs":10,"ndf":1140,"spot":1138,"bs":1.27},
{"t":"2010-03-16","rs":-6,"ndf":1128,"spot":1126,"bs":1.1},
{"t":"2010-04-01","rs":5,"ndf":1122,"spot":1120,"bs":1.0},
{"t":"2010-04-16","rs":-7,"ndf":1118,"spot":1116,"bs":0.98},
{"t":"2010-05-01","rs":5,"ndf":1126,"spot":1124,"bs":1.17},
{"t":"2010-05-16","rs":-5,"ndf":1200,"spot":1195,"bs":1.37},
{"t":"2010-06-01","rs":38,"ndf":1262,"spot":1255,"bs":1.7},
{"t":"2010-06-16","rs":-22,"ndf":1235,"spot":1232,"bs":1.88},
{"t":"2010-07-01","rs":18,"ndf":1215,"spot":1212,"bs":1.93},
{"t":"2010-07-16","rs":-10,"ndf":1202,"spot":1200,"bs":1.86},
{"t":"2010-08-01","rs":18,"ndf":1196,"spot":1194,"bs":2.0},
{"t":"2010-08-16","rs":-8,"ndf":1185,"spot":1183,"bs":2.1},
{"t":"2010-09-01","rs":10,"ndf":1175,"spot":1173,"bs":1.9},
{"t":"2010-09-16","rs":-6,"ndf":1162,"spot":1160,"bs":1.5},
{"t":"2010-10-01","rs":7,"ndf":1135,"spot":1133,"bs":1.55},
{"t":"2010-10-16","rs":-6,"ndf":1122,"spot":1120,"bs":1.75},
{"t":"2010-11-01","rs":8,"ndf":1118,"spot":1116,"bs":1.88},
{"t":"2010-11-16","rs":-5,"ndf":1112,"spot":1110,"bs":1.8},
{"t":"2010-12-01","rs":27,"ndf":1138,"spot":1136,"bs":1.35},
{"t":"2010-12-16","rs":-5,"ndf":1152,"spot":1150,"bs":1.1},
{"t":"2011-01-01","rs":10,"ndf":1148,"spot":1146,"bs":1.2},
{"t":"2011-01-16","rs":-5,"ndf":1142,"spot":1140,"bs":1.17},
{"t":"2011-02-01","rs":8,"ndf":1130,"spot":1128,"bs":1.04},
{"t":"2011-02-16","rs":-10,"ndf":1122,"spot":1120,"bs":1.08},
{"t":"2011-03-01","rs":7,"ndf":1120,"spot":1118,"bs":1.08},
{"t":"2011-03-16","rs":-6,"ndf":1126,"spot":1124,"bs":1.0},
{"t":"2011-04-01","rs":7,"ndf":1125,"spot":1123,"bs":0.97},
{"t":"2011-04-16","rs":-6,"ndf":1100,"spot":1098,"bs":0.94},
{"t":"2011-05-01","rs":8,"ndf":1092,"spot":1090,"bs":1.12},
{"t":"2011-05-16","rs":-5,"ndf":1088,"spot":1086,"bs":1.25},
{"t":"2011-06-01","rs":6,"ndf":1083,"spot":1081,"bs":1.23},
{"t":"2011-06-16","rs":-4,"ndf":1078,"spot":1076,"bs":1.3},
{"t":"2011-07-01","rs":6,"ndf":1072,"spot":1070,"bs":1.36},
{"t":"2011-07-16","rs":-4,"ndf":1068,"spot":1066,"bs":1.32},
{"t":"2011-08-01","rs":8,"ndf":1064,"spot":1062,"bs":1.45},
{"t":"2011-08-16","rs":-3,"ndf":1060,"spot":1058,"bs":1.7},
{"t":"2011-09-01","rs":6,"ndf":1070,"spot":1068,"bs":1.95},
{"t":"2011-09-16","rs":-8,"ndf":1140,"spot":1135,"bs":2.05},
{"t":"2011-10-01","rs":22,"ndf":1180,"spot":1175,"bs":1.72},
{"t":"2011-10-16","rs":-8,"ndf":1150,"spot":1148,"bs":1.56},
{"t":"2011-11-01","rs":20,"ndf":1130,"spot":1128,"bs":1.82},
{"t":"2011-11-16","rs":-12,"ndf":1145,"spot":1143,"bs":1.92},
{"t":"2011-12-01","rs":18,"ndf":1160,"spot":1158,"bs":2.02},
{"t":"2011-12-16","rs":-15,"ndf":1165,"spot":1163,"bs":1.82},
{"t":"2012-01-01","rs":10,"ndf":1168,"spot":1166,"bs":1.88},
{"t":"2012-01-16","rs":-5,"ndf":1140,"spot":1138,"bs":1.93},
{"t":"2012-02-01","rs":8,"ndf":1128,"spot":1126,"bs":1.88},
{"t":"2012-02-16","rs":-4,"ndf":1135,"spot":1133,"bs":1.92},
{"t":"2012-03-01","rs":6,"ndf":1140,"spot":1138,"bs":1.9},
{"t":"2012-03-16","rs":-4,"ndf":1145,"spot":1143,"bs":1.84},
{"t":"2012-04-01","rs":5,"ndf":1140,"spot":1138,"bs":1.73},
{"t":"2012-04-16","rs":-3,"ndf":1136,"spot":1134,"bs":1.82},
{"t":"2012-05-01","rs":5,"ndf":1142,"spot":1140,"bs":1.9},
{"t":"2012-05-16","rs":-3,"ndf":1145,"spot":1143,"bs":1.93},
{"t":"2012-06-01","rs":4,"ndf":1158,"spot":1156,"bs":2.02},
{"t":"2012-06-16","rs":-2,"ndf":1165,"spot":1163,"bs":2.1},
{"t":"2012-07-01","rs":5,"ndf":1175,"spot":1173,"bs":2.13},
{"t":"2012-07-16","rs":-3,"ndf":1170,"spot":1168,"bs":2.04},
{"t":"2012-08-01","rs":4,"ndf":1162,"spot":1160,"bs":1.8},
{"t":"2012-08-16","rs":-3,"ndf":1156,"spot":1154,"bs":1.5},
{"t":"2012-09-01","rs":4,"ndf":1150,"spot":1148,"bs":1.4},
{"t":"2012-09-16","rs":-3,"ndf":1135,"spot":1133,"bs":1.3},
{"t":"2012-10-01","rs":5,"ndf":1126,"spot":1124,"bs":1.24},
{"t":"2012-10-16","rs":-3,"ndf":1120,"spot":1118,"bs":1.3},
{"t":"2012-11-01","rs":4,"ndf":1112,"spot":1110,"bs":1.25},
{"t":"2012-11-16","rs":-2,"ndf":1104,"spot":1102,"bs":1.28},
{"t":"2012-12-01","rs":10,"ndf":1096,"spot":1094,"bs":1.36},
{"t":"2012-12-16","rs":-4,"ndf":1086,"spot":1084,"bs":1.44},
{"t":"2013-01-01","rs":8,"ndf":1078,"spot":1076,"bs":1.3},
{"t":"2013-01-16","rs":-3,"ndf":1069,"spot":1067,"bs":1.18},
{"t":"2013-02-01","rs":6,"ndf":1078,"spot":1076,"bs":1.06},
{"t":"2013-02-16","rs":-5,"ndf":1084,"spot":1082,"bs":0.98},
{"t":"2013-03-01","rs":7,"ndf":1098,"spot":1096,"bs":1.0},
{"t":"2013-03-16","rs":-5,"ndf":1108,"spot":1106,"bs":1.08},
{"t":"2013-04-01","rs":13,"ndf":1118,"spot":1116,"bs":1.15},
{"t":"2013-04-16","rs":-4,"ndf":1128,"spot":1126,"bs":1.1},
{"t":"2013-05-01","rs":5,"ndf":1138,"spot":1136,"bs":0.98},
{"t":"2013-05-16","rs":-5,"ndf":1150,"spot":1148,"bs":0.9},
{"t":"2013-06-01","rs":4,"ndf":1152,"spot":1150,"bs":0.92},
{"t":"2013-06-16","rs":-4,"ndf":1140,"spot":1138,"bs":0.96},
{"t":"2013-07-01","rs":5,"ndf":1135,"spot":1133,"bs":0.85},
{"t":"2013-07-16","rs":-4,"ndf":1128,"spot":1126,"bs":0.9},
{"t":"2013-08-01","rs":5,"ndf":1124,"spot":1122,"bs":0.92},
{"t":"2013-08-16","rs":-5,"ndf":1119,"spot":1117,"bs":0.8},
{"t":"2013-09-01","rs":4,"ndf":1110,"spot":1108,"bs":0.76},
{"t":"2013-09-16","rs":-3,"ndf":1094,"spot":1092,"bs":0.8},
{"t":"2013-10-01","rs":4,"ndf":1080,"spot":1078,"bs":0.88},
{"t":"2013-10-16","rs":-3,"ndf":1069,"spot":1067,"bs":0.85},
{"t":"2013-11-01","rs":9,"ndf":1062,"spot":1060,"bs":0.8},
{"t":"2013-11-16","rs":-4,"ndf":1060,"spot":1058,"bs":0.82},
{"t":"2013-12-01","rs":6,"ndf":1068,"spot":1066,"bs":0.88},
{"t":"2013-12-16","rs":-4,"ndf":1063,"spot":1061,"bs":0.7},
{"t":"2014-01-01","rs":5,"ndf":1060,"spot":1058,"bs":0.62},
{"t":"2014-01-16","rs":-5,"ndf":1070,"spot":1068,"bs":0.88},
{"t":"2014-02-01","rs":6,"ndf":1077,"spot":1075,"bs":0.93},
{"t":"2014-02-16","rs":-5,"ndf":1070,"spot":1068,"bs":0.88},
{"t":"2014-03-01","rs":4,"ndf":1069,"spot":1067,"bs":0.84},
{"t":"2014-03-16","rs":-4,"ndf":1068,"spot":1066,"bs":0.84},
{"t":"2014-04-01","rs":5,"ndf":1060,"spot":1058,"bs":0.86},
{"t":"2014-04-16","rs":-4,"ndf":1052,"spot":1050,"bs":0.88},
{"t":"2014-05-01","rs":6,"ndf":1042,"spot":1040,"bs":0.8},
{"t":"2014-05-16","rs":-6,"ndf":1035,"spot":1033,"bs":0.83},
{"t":"2014-06-01","rs":8,"ndf":1030,"spot":1028,"bs":0.76},
{"t":"2014-06-16","rs":-6,"ndf":1026,"spot":1024,"bs":0.66},
{"t":"2014-07-01","rs":9,"ndf":1020,"spot":1018,"bs":0.52},
{"t":"2014-07-16","rs":-5,"ndf":1025,"spot":1023,"bs":0.53},
{"t":"2014-08-01","rs":10,"ndf":1034,"spot":1032,"bs":0.6},
{"t":"2014-08-16","rs":-5,"ndf":1026,"spot":1024,"bs":0.7},
{"t":"2014-09-01","rs":8,"ndf":1018,"spot":1016,"bs":0.63},
{"t":"2014-09-16","rs":-7,"ndf":1030,"spot":1028,"bs":0.55},
{"t":"2014-10-01","rs":12,"ndf":1045,"spot":1043,"bs":0.42},
{"t":"2014-10-16","rs":-7,"ndf":1075,"spot":1073,"bs":0.45},
{"t":"2014-11-01","rs":10,"ndf":1095,"spot":1093,"bs":0.38},
{"t":"2014-11-16","rs":-5,"ndf":1115,"spot":1113,"bs":0.33},
{"t":"2014-12-01","rs":14,"ndf":1112,"spot":1110,"bs":0.48},
{"t":"2014-12-16","rs":-5,"ndf":1104,"spot":1102,"bs":0.56},
{"t":"2015-01-01","rs":8,"ndf":1106,"spot":1104,"bs":0.63},
{"t":"2015-01-16","rs":-6,"ndf":1110,"spot":1108,"bs":0.62},
{"t":"2015-02-01","rs":9,"ndf":1095,"spot":1093,"bs":0.46},
{"t":"2015-02-16","rs":-6,"ndf":1086,"spot":1084,"bs":0.36},
{"t":"2015-03-01","rs":10,"ndf":1100,"spot":1098,"bs":0.3},
{"t":"2015-03-16","rs":-8,"ndf":1102,"spot":1100,"bs":0.24},
{"t":"2015-04-01","rs":9,"ndf":1096,"spot":1094,"bs":0.28},
{"t":"2015-04-16","rs":-8,"ndf":1090,"spot":1088,"bs":0.3},
{"t":"2015-05-01","rs":8,"ndf":1072,"spot":1070,"bs":0.23},
{"t":"2015-05-16","rs":-10,"ndf":1095,"spot":1093,"bs":0.19},
{"t":"2015-06-01","rs":9,"ndf":1120,"spot":1118,"bs":0.22},
{"t":"2015-06-16","rs":-17,"ndf":1130,"spot":1128,"bs":0.26},
{"t":"2015-07-01","rs":10,"ndf":1140,"spot":1138,"bs":0.14},
{"t":"2015-07-16","rs":-10,"ndf":1162,"spot":1160,"bs":0.16},
{"t":"2015-08-01","rs":11,"ndf":1180,"spot":1178,"bs":0.15},
{"t":"2015-08-16","rs":-8,"ndf":1195,"spot":1193,"bs":0.12},
{"t":"2015-09-01","rs":12,"ndf":1185,"spot":1183,"bs":0.06},
{"t":"2015-09-16","rs":-8,"ndf":1170,"spot":1168,"bs":0.04},
{"t":"2015-10-01","rs":10,"ndf":1150,"spot":1148,"bs":0.06},
{"t":"2015-10-16","rs":-7,"ndf":1138,"spot":1136,"bs":0.0},
{"t":"2015-11-01","rs":11,"ndf":1160,"spot":1158,"bs":0.01},
{"t":"2015-11-16","rs":-9,"ndf":1172,"spot":1170,"bs":0.02},
{"t":"2015-12-01","rs":12,"ndf":1185,"spot":1183,"bs":-0.05},
{"t":"2015-12-16","rs":-10,"ndf":1192,"spot":1190,"bs":-0.12},
{"t":"2016-01-01","rs":10,"ndf":1200,"spot":1198,"bs":-0.15},
{"t":"2016-01-16","rs":-12,"ndf":1222,"spot":1220,"bs":-0.04},
{"t":"2016-02-01","rs":9,"ndf":1238,"spot":1236,"bs":0.05},
{"t":"2016-02-16","rs":-19,"ndf":1212,"spot":1210,"bs":0.0},
{"t":"2016-03-01","rs":10,"ndf":1160,"spot":1158,"bs":-0.01},
{"t":"2016-03-16","rs":-12,"ndf":1148,"spot":1146,"bs":0.05},
{"t":"2016-04-01","rs":9,"ndf":1160,"spot":1158,"bs":0.0},
{"t":"2016-04-16","rs":-11,"ndf":1156,"spot":1154,"bs":-0.01},
{"t":"2016-05-01","rs":10,"ndf":1168,"spot":1166,"bs":0.03},
{"t":"2016-05-16","rs":-12,"ndf":1178,"spot":1176,"bs":-0.04},
{"t":"2016-06-01","rs":8,"ndf":1170,"spot":1168,"bs":-0.05},
{"t":"2016-06-16","rs":-10,"ndf":1162,"spot":1160,"bs":-0.02},
{"t":"2016-07-01","rs":11,"ndf":1150,"spot":1148,"bs":-0.08},
{"t":"2016-07-16","rs":-10,"ndf":1140,"spot":1138,"bs":-0.14},
{"t":"2016-08-01","rs":10,"ndf":1118,"spot":1116,"bs":-0.16},
{"t":"2016-08-16","rs":-11,"ndf":1108,"spot":1106,"bs":-0.09},
{"t":"2016-09-01","rs":9,"ndf":1094,"spot":1092,"bs":-0.12},
{"t":"2016-09-16","rs":-9,"ndf":1105,"spot":1103,"bs":-0.16},
{"t":"2016-10-01","rs":11,"ndf":1125,"spot":1123,"bs":-0.12},
{"t":"2016-10-16","rs":-8,"ndf":1138,"spot":1136,"bs":-0.19},
{"t":"2016-11-01","rs":10,"ndf":1155,"spot":1153,"bs":-0.25},
{"t":"2016-11-16","rs":-12,"ndf":1170,"spot":1168,"bs":-0.32},
{"t":"2016-12-01","rs":11,"ndf":1182,"spot":1180,"bs":-0.38},
{"t":"2016-12-16","rs":-13,"ndf":1204,"spot":1202,"bs":-0.3},
{"t":"2017-01-01","rs":10,"ndf":1210,"spot":1208,"bs":-0.28},
{"t":"2017-01-16","rs":-8,"ndf":1190,"spot":1188,"bs":-0.36},
{"t":"2017-02-01","rs":11,"ndf":1160,"spot":1158,"bs":-0.33},
{"t":"2017-02-16","rs":-9,"ndf":1140,"spot":1138,"bs":-0.28},
{"t":"2017-03-01","rs":9,"ndf":1130,"spot":1128,"bs":-0.18},
{"t":"2017-03-16","rs":-8,"ndf":1128,"spot":1126,"bs":-0.14},
{"t":"2017-04-01","rs":10,"ndf":1140,"spot":1138,"bs":-0.08},
{"t":"2017-04-16","rs":-8,"ndf":1140,"spot":1138,"bs":-0.03},
{"t":"2017-05-01","rs":7,"ndf":1130,"spot":1128,"bs":-0.02},
{"t":"2017-05-16","rs":-7,"ndf":1128,"spot":1126,"bs":0.0},
{"t":"2017-06-01","rs":8,"ndf":1136,"spot":1134,"bs":0.0},
{"t":"2017-06-16","rs":-8,"ndf":1140,"spot":1138,"bs":-0.06},
{"t":"2017-07-01","rs":5,"ndf":1145,"spot":1143,"bs":-0.01},
{"t":"2017-07-16","rs":-7,"ndf":1140,"spot":1138,"bs":0.08},
{"t":"2017-08-01","rs":4,"ndf":1135,"spot":1133,"bs":0.16},
{"t":"2017-08-16","rs":-7,"ndf":1148,"spot":1146,"bs":0.14},
{"t":"2017-09-01","rs":5,"ndf":1150,"spot":1148,"bs":0.17},
{"t":"2017-09-16","rs":-6,"ndf":1145,"spot":1143,"bs":0.2},
{"t":"2017-10-01","rs":5,"ndf":1138,"spot":1136,"bs":0.16},
{"t":"2017-10-16","rs":-7,"ndf":1128,"spot":1126,"bs":0.12},
{"t":"2017-11-01","rs":4,"ndf":1110,"spot":1108,"bs":0.08},
{"t":"2017-11-16","rs":-6,"ndf":1094,"spot":1092,"bs":0.02},
{"t":"2017-12-01","rs":6,"ndf":1075,"spot":1073,"bs":-0.04},
{"t":"2017-12-16","rs":-8,"ndf":1068,"spot":1066,"bs":-0.07},
{"t":"2018-01-01","rs":8,"ndf":1076,"spot":1074,"bs":-0.1},
{"t":"2018-01-16","rs":-8,"ndf":1072,"spot":1070,"bs":-0.13},
{"t":"2018-02-01","rs":6,"ndf":1060,"spot":1058,"bs":-0.17},
{"t":"2018-02-16","rs":-13,"ndf":1066,"spot":1064,"bs":-0.14},
{"t":"2018-03-01","rs":8,"ndf":1077,"spot":1075,"bs":-0.15},
{"t":"2018-03-16","rs":-10,"ndf":1070,"spot":1068,"bs":-0.22},
{"t":"2018-04-01","rs":7,"ndf":1066,"spot":1064,"bs":-0.26},
{"t":"2018-04-16","rs":-8,"ndf":1072,"spot":1070,"bs":-0.25},
{"t":"2018-05-01","rs":5,"ndf":1077,"spot":1075,"bs":-0.27}
]
},
"vconcat":[
{"bounds":"flush","spacing":50,"hconcat":[
{"width":88,"height":54,"view":{"stroke":null},"data":{"values":[{"k":""}]},"mark":{"type":"text"},"encoding":{"text":{"field":"k"}}},
{"width":1109,"height":54,"view":{"stroke":null},
"data":{"values":[{"col":"RS"},{"col":"NDF"},{"col":"SPOT"},{"col":"BS"}]},
"mark":{"type":"text","font":"Liberation Serif","fontSize":30,"baseline":"middle","color":"#000"},
"encoding":{"x":{"field":"col","type":"nominal","sort":null,"scale":{"type":"point","padding":0.471,"align":0.528},"axis":{"title":null,"labels":false,"ticks":false,"domain":true,"domainColor":"#000","domainWidth":1.2,"offset":8}},"text":{"field":"col"}}}
]},
{"bounds":"flush","spacing":249.5,"vconcat":[
{"bounds":"flush","spacing":80,"hconcat":[
{"width":88,"height":90,"view":{"stroke":null},"data":{"values":[{"name":"台灣"}]},"mark":{"type":"text","font":"Noto Sans CJK TC","fontSize":27,"baseline":"middle","color":"#000"},"encoding":{"text":{"field":"name"}}},
{"bounds":"flush","spacing":49,"hconcat":[
{"width":232,"height":139,"data":{"name":"tw"},"mark":{"type":"line"},"encoding":{"x":{"field":"t","type":"temporal","scale":{"type":"utc","nice":false},"axis":{"title":null,"format":"%y","values":[{"year":2008,"utc":true},{"year":2009,"utc":true},{"year":2010,"utc":true},{"year":2011,"utc":true},{"year":2012,"utc":true},{"year":2013,"utc":true},{"year":2014,"utc":true},{"year":2015,"utc":true},{"year":2016,"utc":true},{"year":2017,"utc":true},{"year":2018,"utc":true}]}},"y":{"field":"rs","type":"quantitative","scale":{"domain":[-0.6,0.6],"nice":false,"zero":false},"axis":{"title":null,"values":[-0.6,-0.4,-0.2,0,0.2,0.4,0.6],"labelExpr":"replace(replace(format(datum.value,'.1f'),'0.','.'),'\u2212','-')"}}}},
{"width":232,"height":139,"data":{"name":"tw"},"mark":{"type":"line"},"encoding":{"x":{"field":"t","type":"temporal","scale":{"type":"utc","nice":false},"axis":{"title":null,"format":"%y","values":[{"year":2008,"utc":true},{"year":2009,"utc":true},{"year":2010,"utc":true},{"year":2011,"utc":true},{"year":2012,"utc":true},{"year":2013,"utc":true},{"year":2014,"utc":true},{"year":2015,"utc":true},{"year":2016,"utc":true},{"year":2017,"utc":true},{"year":2018,"utc":true}]}},"y":{"field":"ndf","type":"quantitative","scale":{"domain":[28,36],"nice":false,"zero":false},"axis":{"title":null,"values":[28,29,30,31,32,33,34,35,36],"labelExpr":"format(datum.value,'d')"}}}},
{"width":232,"height":139,"data":{"name":"tw"},"mark":{"type":"line"},"encoding":{"x":{"field":"t","type":"temporal","scale":{"type":"utc","nice":false},"axis":{"title":null,"format":"%y","values":[{"year":2008,"utc":true},{"year":2009,"utc":true},{"year":2010,"utc":true},{"year":2011,"utc":true},{"year":2012,"utc":true},{"year":2013,"utc":true},{"year":2014,"utc":true},{"year":2015,"utc":true},{"year":2016,"utc":true},{"year":2017,"utc":true},{"year":2018,"utc":true}]}},"y":{"field":"spot","type":"quantitative","scale":{"domain":[28,36],"nice":false,"zero":false},"axis":{"title":null,"values":[28,29,30,31,32,33,34,35,36],"labelExpr":"format(datum.value,'d')"}}}},
{"width":232,"height":139,"data":{"name":"tw"},"mark":{"type":"line"},"encoding":{"x":{"field":"t","type":"temporal","scale":{"type":"utc","nice":false},"axis":{"title":null,"format":"%y","values":[{"year":2008,"utc":true},{"year":2009,"utc":true},{"year":2010,"utc":true},{"year":2011,"utc":true},{"year":2012,"utc":true},{"year":2013,"utc":true},{"year":2014,"utc":true},{"year":2015,"utc":true},{"year":2016,"utc":true},{"year":2017,"utc":true},{"year":2018,"utc":true}]}},"y":{"field":"bs","type":"quantitative","scale":{"domain":[-3,0],"nice":false,"zero":false},"axis":{"title":null,"values":[-3,-2.5,-2,-1.5,-1,-0.5,0],"labelExpr":"replace(format(datum.value,'.1f'),'\u2212','-')"}}}}
]}
]},
{"bounds":"flush","spacing":80,"hconcat":[
{"width":88,"height":90,"view":{"stroke":null},"data":{"values":[{"name":"大陸"}]},"mark":{"type":"text","font":"Noto Sans CJK TC","fontSize":27,"baseline":"middle","color":"#000"},"encoding":{"text":{"field":"name"}}},
{"bounds":"flush","spacing":49,"hconcat":[
{"width":232,"height":139,"data":{"name":"cn"},"mark":{"type":"line"},"encoding":{"x":{"field":"t","type":"temporal","scale":{"type":"utc","nice":false},"axis":{"title":null,"format":"%y","values":[{"year":2008,"utc":true},{"year":2009,"utc":true},{"year":2010,"utc":true},{"year":2011,"utc":true},{"year":2012,"utc":true},{"year":2013,"utc":true},{"year":2014,"utc":true},{"year":2015,"utc":true},{"year":2016,"utc":true},{"year":2017,"utc":true},{"year":2018,"utc":true}]}},"y":{"field":"rs","type":"quantitative","scale":{"domain":[-0.15,0.15],"nice":false,"zero":false},"axis":{"title":null,"values":[-0.15,-0.1,-0.05,0,0.05,0.1,0.15],"labelExpr":"replace(replace(format(datum.value,'.2f'),'0.','.'),'\u2212','-')"}}}},
{"width":232,"height":139,"data":{"name":"cn"},"mark":{"type":"line"},"encoding":{"x":{"field":"t","type":"temporal","scale":{"type":"utc","nice":false},"axis":{"title":null,"format":"%y","values":[{"year":2008,"utc":true},{"year":2009,"utc":true},{"year":2010,"utc":true},{"year":2011,"utc":true},{"year":2012,"utc":true},{"year":2013,"utc":true},{"year":2014,"utc":true},{"year":2015,"utc":true},{"year":2016,"utc":true},{"year":2017,"utc":true},{"year":2018,"utc":true}]}},"y":{"field":"ndf","type":"quantitative","scale":{"domain":[6.0,7.4],"nice":false,"zero":false},"axis":{"title":null,"values":[6.0,6.2,6.4,6.6,6.8,7.0,7.2,7.4],"labelExpr":"format(datum.value,'.1f')"}}}},
{"width":232,"height":139,"data":{"name":"cn"},"mark":{"type":"line"},"encoding":{"x":{"field":"t","type":"temporal","scale":{"type":"utc","nice":false},"axis":{"title":null,"format":"%y","values":[{"year":2008,"utc":true},{"year":2009,"utc":true},{"year":2010,"utc":true},{"year":2011,"utc":true},{"year":2012,"utc":true},{"year":2013,"utc":true},{"year":2014,"utc":true},{"year":2015,"utc":true},{"year":2016,"utc":true},{"year":2017,"utc":true},{"year":2018,"utc":true}]}},"y":{"field":"spot","type":"quantitative","scale":{"domain":[6.0,7.4],"nice":false,"zero":false},"axis":{"title":null,"values":[6.0,6.2,6.4,6.6,6.8,7.0,7.2,7.4],"labelExpr":"format(datum.value,'.1f')"}}}},
{"width":232,"height":139,"data":{"name":"cn"},"mark":{"type":"line"},"encoding":{"x":{"field":"t","type":"temporal","scale":{"type":"utc","nice":false},"axis":{"title":null,"format":"%y","values":[{"year":2008,"utc":true},{"year":2009,"utc":true},{"year":2010,"utc":true},{"year":2011,"utc":true},{"year":2012,"utc":true},{"year":2013,"utc":true},{"year":2014,"utc":true},{"year":2015,"utc":true},{"year":2016,"utc":true},{"year":2017,"utc":true},{"year":2018,"utc":true}]}},"y":{"field":"bs","type":"quantitative","scale":{"domain":[-1,2.5],"nice":false,"zero":false},"axis":{"title":null,"values":[-1,-0.5,0,0.5,1,1.5,2,2.5],"labelExpr":"replace(format(datum.value,'.1f'),'\u2212','-')"}}}}
]}
]},
{"bounds":"flush","spacing":80,"hconcat":[
{"width":88,"height":90,"view":{"stroke":null},"data":{"values":[{"name":"韓國"}]},"mark":{"type":"text","font":"Noto Sans CJK TC","fontSize":27,"baseline":"middle","color":"#000"},"encoding":{"text":{"field":"name"}}},
{"bounds":"flush","spacing":49,"hconcat":[
{"width":232,"height":139,"data":{"name":"kr"},"mark":{"type":"line"},"encoding":{"x":{"field":"t","type":"temporal","scale":{"type":"utc","nice":false},"axis":{"title":null,"format":"%y","values":[{"year":2008,"utc":true},{"year":2009,"utc":true},{"year":2010,"utc":true},{"year":2011,"utc":true},{"year":2012,"utc":true},{"year":2013,"utc":true},{"year":2014,"utc":true},{"year":2015,"utc":true},{"year":2016,"utc":true},{"year":2017,"utc":true},{"year":2018,"utc":true}]}},"y":{"field":"rs","type":"quantitative","scale":{"domain":[-60,100],"nice":false,"zero":false},"axis":{"title":null,"values":[-60,-40,-20,0,20,40,60,80,100],"labelExpr":"replace(format(datum.value,'d'),'\u2212','-')"}}}},
{"width":232,"height":139,"data":{"name":"kr"},"mark":{"type":"line"},"encoding":{"x":{"field":"t","type":"temporal","scale":{"type":"utc","nice":false},"axis":{"title":null,"format":"%y","values":[{"year":2008,"utc":true},{"year":2009,"utc":true},{"year":2010,"utc":true},{"year":2011,"utc":true},{"year":2012,"utc":true},{"year":2013,"utc":true},{"year":2014,"utc":true},{"year":2015,"utc":true},{"year":2016,"utc":true},{"year":2017,"utc":true},{"year":2018,"utc":true}]}},"y":{"field":"ndf","type":"quantitative","scale":{"domain":[900,1600],"nice":false,"zero":false},"axis":{"title":null,"values":[900,1000,1100,1200,1300,1400,1500,1600],"labelExpr":"format(datum.value,',d')"}}}},
{"width":232,"height":139,"data":{"name":"kr"},"mark":{"type":"line"},"encoding":{"x":{"field":"t","type":"temporal","scale":{"type":"utc","nice":false},"axis":{"title":null,"format":"%y","values":[{"year":2008,"utc":true},{"year":2009,"utc":true},{"year":2010,"utc":true},{"year":2011,"utc":true},{"year":2012,"utc":true},{"year":2013,"utc":true},{"year":2014,"utc":true},{"year":2015,"utc":true},{"year":2016,"utc":true},{"year":2017,"utc":true},{"year":2018,"utc":true}]}},"y":{"field":"spot","type":"quantitative","scale":{"domain":[900,1600],"nice":false,"zero":false},"axis":{"title":null,"values":[900,1000,1100,1200,1300,1400,1500,1600],"labelExpr":"format(datum.value,',d')"}}}},
{"width":232,"height":139,"data":{"name":"kr"},"mark":{"type":"line"},"encoding":{"x":{"field":"t","type":"temporal","scale":{"type":"utc","nice":false},"axis":{"title":null,"format":"%y","values":[{"year":2008,"utc":true},{"year":2009,"utc":true},{"year":2010,"utc":true},{"year":2011,"utc":true},{"year":2012,"utc":true},{"year":2013,"utc":true},{"year":2014,"utc":true},{"year":2015,"utc":true},{"year":2016,"utc":true},{"year":2017,"utc":true},{"year":2018,"utc":true}]}},"y":{"field":"bs","type":"quantitative","scale":{"domain":[-0.5,3.5],"nice":false,"zero":false},"axis":{"title":null,"values":[-0.5,0,0.5,1,1.5,2,2.5,3,3.5],"labelExpr":"replace(format(datum.value,'.1f'),'\u2212','-')"}}}}
]}
]}
]}
]
}
